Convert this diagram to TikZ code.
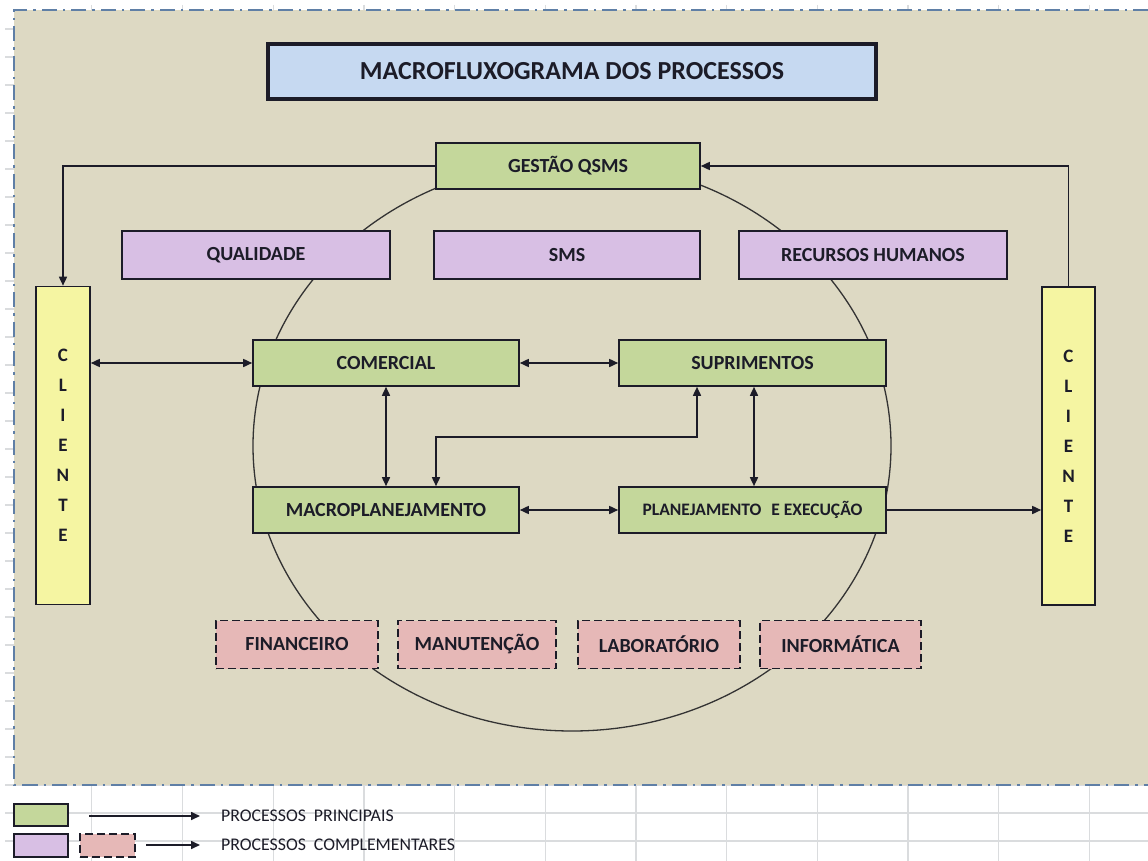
\documentclass[tikz,border=0pt]{standalone}
\usepackage{fontspec}
\setmainfont{Carlito}
\usetikzlibrary{arrows.meta}
\definecolor{beige}{HTML}{DDD9C3}
\definecolor{titleblue}{HTML}{C6D9F1}
\definecolor{procgreen}{HTML}{C4D79B}
\definecolor{proclilac}{HTML}{D8BFE4}
\definecolor{procpink}{HTML}{E6B8B7}
\definecolor{cliyellow}{HTML}{F5F5A2}
\definecolor{borderblue}{HTML}{5F7FA6}
\definecolor{gridgray}{HTML}{DADCDE}
\definecolor{inkdark}{HTML}{1C1C28}
\begin{document}
\begin{tikzpicture}[x=1pt,y=-1pt,
  boxbase/.style={draw=inkdark, line width=1.6pt, inner sep=0pt, text=inkdark,
    font=\bfseries\fontsize{20}{24}\selectfont},
  greenbox/.style={boxbase, fill=procgreen, minimum width=266pt, minimum height=46pt},
  lilacbox/.style={boxbase, fill=proclilac, minimum width=268pt, minimum height=48pt},
  pinkbox/.style={boxbase, fill=procpink, dash pattern=on 8pt off 4pt, minimum height=48pt},
  clibox/.style={boxbase, fill=cliyellow, minimum width=54pt, minimum height=318pt, align=center,
    font=\bfseries\fontsize{19}{30}\selectfont},
  arr/.style={line width=1.6pt, draw=inkdark, -{Triangle[length=9pt,width=8pt]}},
  darr/.style={line width=1.6pt, draw=inkdark, {Triangle[length=9pt,width=8pt]}-{Triangle[length=9pt,width=8pt]}},
  legtext/.style={anchor=west, inner sep=0pt, text=inkdark, font=\fontsize{17.8}{20}\selectfont},
  gridline/.style={draw=gridgray, line width=1.3pt}]
\useasboundingbox (0,0) rectangle (1148,861);
\fill[white] (0,0) rectangle (1148,861);
% spreadsheet grid
\foreach \k in {0,...,11} {
  \draw[gridline] ({91.8+90.7*\k},5) -- ({91.8+90.7*\k},861);
}
\foreach \k in {0,...,29} {
  \draw[gridline] (5,{29+28*\k}) -- (1148,{29+28*\k});
}
% background sheet
\fill[beige] (14,10) rectangle (1148,785);
\draw[borderblue, line width=2.2pt, dash pattern=on 15pt off 6pt on 2.5pt off 6pt]
  (1148,10) -- (14,10) -- (14,785) -- (1148,785);
% title
\node[boxbase, fill=titleblue, line width=3.2pt, minimum width=608pt, minimum height=55pt,
  font=\bfseries\fontsize{26}{30}\selectfont] (title) at (572,71.5) {MACROFLUXOGRAMA DOS PROCESSOS};
% circle
\draw[line width=1.3pt, draw=black!80] (572,446) ellipse [x radius=319, y radius=285];
% boxes
\node[greenbox, minimum width=264pt] (gestao) at (568,166) {GESTÃO QSMS};
\node[lilacbox] (qual) at (256,255) {QUALIDADE};
\node[lilacbox, minimum width=266pt] (sms) at (567,255) {SMS};
\node[lilacbox] (rh) at (873,255) {RECURSOS HUMANOS};
\node[clibox] (cliL) at (63,445.5) {C\\L\\I\\E\\N\\T\\E};
\node[clibox, minimum width=53pt] (cliR) at (1068.5,446) {C\\L\\I\\E\\N\\T\\E};
\node[greenbox] (com) at (386,363) {COMERCIAL};
\node[greenbox, minimum width=267pt] (sup) at (752.5,363) {SUPRIMENTOS};
\node[greenbox] (macro) at (386,510) {MACROPLANEJAMENTO};
\node[greenbox, minimum width=267pt, font=\bfseries\fontsize{17.5}{20}\selectfont] (plan) at (752.5,510) {PLANEJAMENTO\hspace{6pt} E EXECUÇÃO};
\node[pinkbox, minimum width=162pt] (fin) at (297,644.5) {FINANCEIRO};
\node[pinkbox, minimum width=158pt] (man) at (477,644.5) {MANUTENÇÃO};
\node[pinkbox, minimum width=162pt] (lab) at (659,644.5) {LABORATÓRIO};
\node[pinkbox, minimum width=161pt] (inf) at (840.5,644.5) {INFORMÁTICA};
% connector helper coordinates
\coordinate (k1) at (697,437);
\coordinate (k2) at (436,437);
\coordinate (k3) at (754,400);
% connectors
\draw[arr] (gestao.west) -| (cliL.north);
\draw[arr] (cliR.north) |- (gestao.east);
\draw[darr] (cliL.east |- com.west) -- (com.west);
\draw[darr] (com.east) -- (sup.west);
\draw[darr] (com.south) -- (macro.north);
\draw[darr] (sup.south -| k1) -- (k1) -- (k2) -- (k2 |- macro.north);
\draw[darr] (sup.south -| k3) -- (plan.north -| k3);
\draw[darr] (macro.east) -- (plan.west);
\draw[arr] (plan.east) -- (cliR.west |- plan.east);
% legend
\node[boxbase, line width=2pt, fill=procgreen, minimum width=54pt, minimum height=22pt] (lg1) at (41,815) {};
\node[boxbase, line width=2pt, fill=proclilac, minimum width=54pt, minimum height=23pt] (lg2) at (41,845.5) {};
\node[boxbase, line width=2pt, fill=procpink, dash pattern=on 8pt off 4pt, minimum width=55pt, minimum height=23pt] (lg3) at (107.5,845.5) {};
\node[legtext] (lt1) at (221,816) {PROCESSOS\hspace{4pt} PRINCIPAIS};
\node[legtext] (lt2) at (221,845) {PROCESSOS\hspace{4pt} COMPLEMENTARES};
\draw[arr, shorten <=20pt, shorten >=21pt] (lg1.east |- lt1.west) -- (lt1.west);
\draw[arr, shorten <=10pt, shorten >=21pt] (lg3.east |- lt2.west) -- (lt2.west);
\end{tikzpicture}
\end{document}
